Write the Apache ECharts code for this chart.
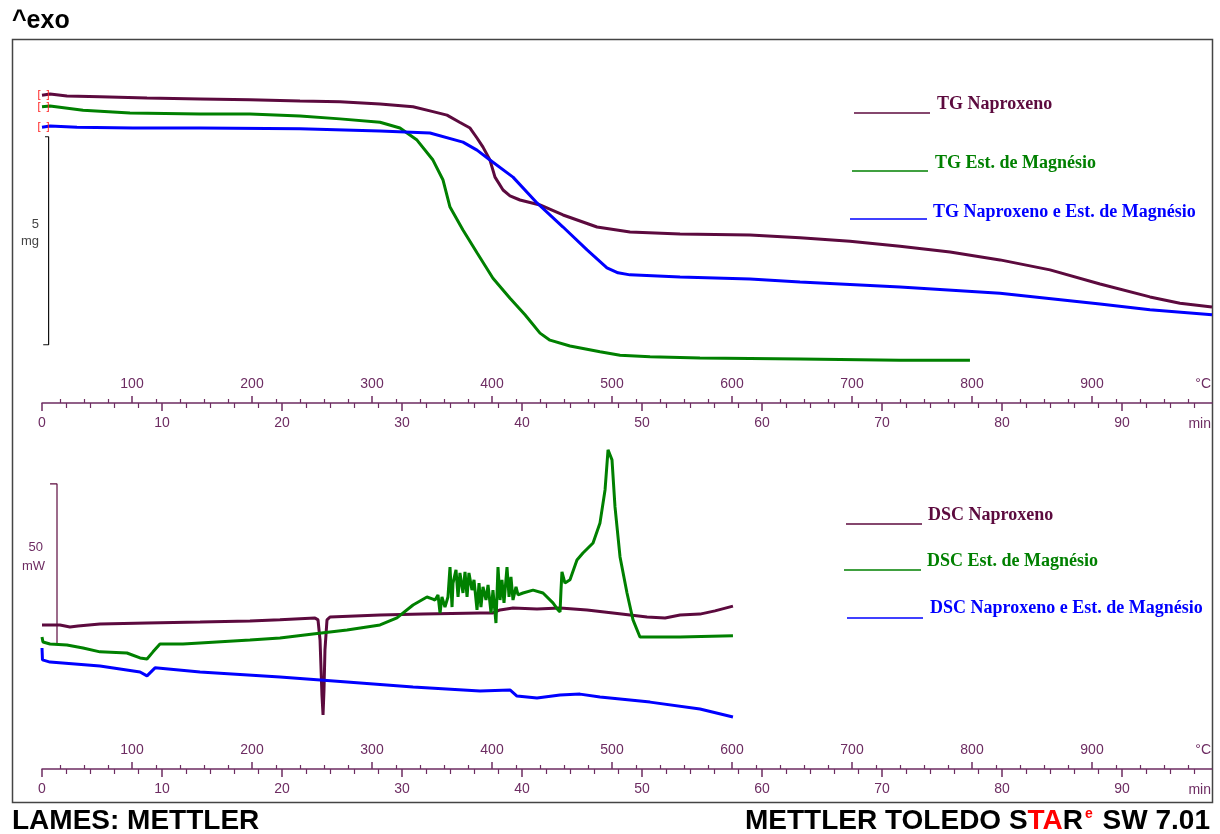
<!DOCTYPE html>
<html><head><meta charset="utf-8">
<script src="https://cdn.jsdelivr.net/npm/echarts@6/dist/echarts.min.js"></script>
<style>html,body{margin:0;padding:0;background:#fff}#c{width:1220px;height:834px}</style>
</head><body><div id="c"></div>
<script>
// ---------- tick labels ----------
const minuteMajorTicks = [0,10,20,30,40,50,60,70,80,90];
const minuteMinorTicks = [2,4,6,8,12,14,16,18,22,24,26,28,32,34,36,38,42,44,46,48,52,54,56,58,62,64,66,68,72,74,76,78,82,84,86,88,92,94,96];
const tempMajorTicks = [100,200,300,400,500,600,700,800,900];
const tempMinorTicks = [40,60,80,120,140,160,180,220,240,260,280,320,340,360,380,420,440,460,480,520,540,560,580,620,640,660,680,720,740,760,780,820,840,860,880,920,940,960,980];

// ---------- TG curves: [time min, mass mg] ----------
const tgNaproxeno = [[0,7.40],[0.67,7.43],[2.08,7.38],[4.83,7.36],[8.75,7.33],[13.17,7.31],[17.33,7.29],[21.5,7.26],[24.83,7.24],[28.17,7.19],[30.92,7.12],[32.5,7.01],[33.75,6.92],[34.8,6.75],[35.67,6.61],[36.25,6.37],[36.75,6.15],[37.33,5.84],[37.75,5.43],[38.42,5.12],[39.0,4.98],[39.83,4.88],[41.5,4.76],[43.42,4.52],[46.25,4.23],[49,4.11],[53.17,4.06],[59,4.04],[63.17,3.97],[67.33,3.89],[71.5,3.77],[75.67,3.63],[79.83,3.44],[84,3.20],[88.17,2.86],[92.33,2.55],[94.83,2.40],[97.5,2.31]];
const tgMagnesio = [[0,7.12],[0.67,7.14],[3.42,7.04],[7.33,6.97],[13.17,6.95],[17.33,6.95],[21.5,6.90],[24.83,6.83],[28.17,6.75],[29.83,6.61],[31.25,6.32],[32.58,5.84],[33.42,5.36],[34,4.71],[35.08,4.16],[36.25,3.61],[37.58,3.00],[39,2.52],[40.25,2.12],[41.5,1.68],[42.33,1.51],[44,1.37],[46.5,1.23],[48.17,1.15],[50.67,1.11],[54.83,1.08],[63.17,1.06],[71.5,1.03],[77.33,1.03]];
const tgMistura = [[0,6.63],[0.67,6.66],[2.92,6.63],[7.58,6.61],[13.17,6.61],[21.5,6.59],[28.17,6.54],[32.33,6.49],[35.08,6.27],[36.25,6.08],[37.33,5.84],[39.25,5.43],[41.25,4.81],[43.42,4.23],[45.42,3.68],[47.08,3.25],[48,3.13],[49,3.08],[53.17,3.03],[59,2.98],[63.17,2.91],[71.5,2.79],[79.83,2.64],[88.17,2.38],[92.33,2.24],[97.5,2.12]];
const tgScaleBar = [[0.25,6.4],[0.55,6.4],[0.55,1.4],[0.1,1.4]];

// ---------- DSC curves: [time min, heat flow mW] ----------
const dscNaproxeno = [[0,45.0],[1.5,45.0],[2.33,44.4],[3.0,44.7],[4.83,45.3],[8.75,45.6],[13.17,45.9],[17.33,46.25],[19.83,46.6],[22.75,47.2],[23.0,46.6],[23.17,40.3],[23.33,23.1],[23.42,16.9],[23.5,24.7],[23.58,37.2],[23.75,46.6],[24,47.5],[28.17,48.1],[31.75,48.4],[36.5,48.75],[37.58,48.75],[38.17,49.7],[39.25,50.3],[41.25,50.0],[43.17,50.3],[45.42,49.7],[47.58,48.75],[50.42,47.5],[51.92,47.2],[53.17,48.1],[54.83,48.4],[56.08,49.4],[57.58,50.9]];
const dscMagnesio = [[0,41.25],[0.08,39.7],[0.67,39.06],[2.08,38.75],[3.42,37.8],[4.83,36.6],[7.08,36.25],[8.17,34.7],[8.75,34.4],[9.25,36.6],[9.83,39.06],[11.75,39.06],[13.17,39.4],[17.33,40.3],[19.83,40.9],[22.58,42.2],[25.42,43.4],[28.17,45.0],[29.58,47.2],[30.92,51.25],[32.08,53.75],[32.58,53.1],
 [32.75,52.8],[33.0,54.4],[33.17,48.75],[33.33,53.75],[33.58,50.6],[33.83,53.75],[34.0,63.1],[34.17,50.6],[34.25,58.1],[34.5,62.2],[34.67,53.75],[34.83,61.25],[35.08,55.0],[35.25,61.6],[35.42,53.75],[35.58,61.25],[35.83,55.9],[36.0,59.1],[36.25,49.7],[36.42,58.1],[36.58,50.6],[36.75,56.9],[37.0,52.8],[37.17,57.5],[37.42,48.75],[37.58,55.9],[37.83,45.6],[38.0,63.1],[38.17,52.8],[38.33,59.1],[38.5,51.9],[38.75,63.1],[38.92,53.75],[39.08,60.0],[39.25,52.8],[39.5,56.9],[39.67,54.4],
 [40.08,55.0],[40.92,55.9],[41.75,55.0],[42.58,51.9],[43.0,49.7],[43.17,49.1],[43.25,55.9],[43.33,61.6],[43.58,58.1],[44.0,59.1],[44.58,65.3],[45.08,67.5],[45.92,70.6],[46.5,76.9],[46.92,87.2],[47.17,99.7],[47.33,99.1],[47.5,96.6],[47.75,81.9],[48.17,66.25],[48.75,55.0],[49.25,46.6],[49.83,41.25],[53.17,41.25],[57.58,41.6]];
const dscMistura = [[0,37.8],[0.04,34.1],[0.67,33.4],[4.83,32.2],[8.17,30.3],[8.75,29.1],[9.42,31.6],[13.17,30.3],[19.83,28.75],[25.42,27.2],[30.92,25.6],[36.5,24.4],[39,24.7],[39.58,22.8],[41.25,22.2],[43.17,23.1],[44.83,23.4],[46.5,22.5],[50.67,20.9],[54.83,18.75],[57.58,16.25]];
const dscScaleBar = [[0.67,89.06],[1.25,89.06],[1.25,39.06],[0.67,39.06]];

// ---------- styling ----------
const PURPLE = '#5c0a3e', GREEN = '#008000', BLUE = '#0000ff';
const AXIS = '#6d2c62';
const tickFont = {color: AXIS, fontSize: 14, fontFamily: 'Liberation Sans, Arial, sans-serif'};

function axesFor(g) {
  return [
    { gridIndex: g, type: 'value', position: 'bottom', min: 0, max: 97.5,
      axisLine: {show: true, onZero: false, lineStyle: {color: AXIS, width: 1.5}},
      axisTick: {show: true, customValues: minuteMajorTicks, length: 8, lineStyle: {color: AXIS, width: 1.5}},
      axisLabel: {show: true, customValues: minuteMajorTicks, margin: 13, ...tickFont},
      splitLine: {show: false},
      name: 'min', nameLocation: 'end', nameGap: -1,
      nameTextStyle: {...tickFont, align: 'right', verticalAlign: 'top', padding: [14, 0, 0, 0]} },
    { gridIndex: g, type: 'value', position: 'bottom', min: 0, max: 97.5,
      axisLine: {show: false, onZero: false},
      axisTick: {show: true, customValues: minuteMinorTicks, length: 5, lineStyle: {color: AXIS, width: 1.2}},
      axisLabel: {show: false}, splitLine: {show: false} },
    { gridIndex: g, type: 'value', position: 'bottom', min: 25, max: 1000,
      axisLine: {show: false, onZero: false},
      axisTick: {show: true, inside: true, customValues: tempMajorTicks, length: 7, lineStyle: {color: AXIS, width: 1.5}},
      axisLabel: {show: true, inside: true, customValues: tempMajorTicks, margin: 12, ...tickFont},
      splitLine: {show: false},
      name: '°C', nameLocation: 'end', nameGap: -1,
      nameTextStyle: {...tickFont, align: 'right', verticalAlign: 'bottom', padding: [0, 0, 12, 0]} },
    { gridIndex: g, type: 'value', position: 'bottom', min: 25, max: 1000,
      axisLine: {show: false, onZero: false},
      axisTick: {show: true, inside: true, customValues: tempMinorTicks, length: 4, lineStyle: {color: AXIS, width: 1.2}},
      axisLabel: {show: false}, splitLine: {show: false} }
  ];
}

function curve(name, data, color, xi, yi, startMark) {
  const s = { name, type: 'line', data, xAxisIndex: xi, yAxisIndex: yi,
    symbol: 'none', showSymbol: false, silent: true, smooth: false,
    lineStyle: {color, width: 3}, z: 3 };
  if (startMark) {
    s.markPoint = { symbol: 'circle', symbolSize: 0, silent: true,
      data: [{coord: data[0]}],
      label: {show: true, position: 'inside', formatter: '[  ]', color: '#ff2020', fontSize: 11, fontFamily: 'Liberation Sans, Arial, sans-serif', offset: [1.5, 0]} };
  }
  return s;
}

function legendEntry(x1, x2, ly, tx, ty, color, text) {
  return [
    {type: 'line', shape: {x1: x1, y1: ly, x2: x2, y2: ly}, style: {stroke: color, lineWidth: 1.5}},
    {type: 'text', x: tx, y: ty, style: {text, fill: color, font: 'bold 18px "Liberation Serif", "Times New Roman", serif', textVerticalAlign: 'middle'}}
  ];
}

const chart = echarts.init(document.getElementById('c'), null, {renderer: 'canvas'});
const option = {
  backgroundColor: '#ffffff',
  animation: false,
  grid: [
    {left: 42, width: 1170, top: 40, height: 363},
    {left: 42, width: 1170, top: 440, height: 329}
  ],
  xAxis: [...axesFor(0), ...axesFor(1)],
  yAxis: [
    {gridIndex: 0, type: 'value', min: 0, max: 8.726, show: false},
    {gridIndex: 1, type: 'value', min: 0, max: 102.8, show: false}
  ],
  series: [
    curve('TG Naproxeno', tgNaproxeno, PURPLE, 0, 0, true),
    curve('TG Est. de Magnésio', tgMagnesio, GREEN, 0, 0, true),
    curve('TG Naproxeno e Est. de Magnésio', tgMistura, BLUE, 0, 0, true),
    {name: '5 mg', type: 'line', data: tgScaleBar, xAxisIndex: 0, yAxisIndex: 0, symbol: 'none', silent: true,
     lineStyle: {color: '#111111', width: 1.2}, z: 2},
    curve('DSC Naproxeno', dscNaproxeno, PURPLE, 4, 1, false),
    curve('DSC Est. de Magnésio', dscMagnesio, GREEN, 4, 1, false),
    curve('DSC Naproxeno e Est. de Magnésio', dscMistura, BLUE, 4, 1, false),
    {name: '50 mW', type: 'line', data: dscScaleBar, xAxisIndex: 4, yAxisIndex: 1, symbol: 'none', silent: true,
     lineStyle: {color: PURPLE, width: 1.2}, z: 2}
  ],
  graphic: [
    {type: 'rect', shape: {x: 12.5, y: 39.5, width: 1200, height: 763}, style: {fill: 'none', stroke: '#444444', lineWidth: 1.5}, z: 0},
    {type: 'text', x: 12, y: 21, style: {text: '^exo', fill: '#000', font: 'bold 25px "Liberation Sans", Arial, sans-serif', textVerticalAlign: 'middle'}},
    {type: 'text', x: 39, y: 224, style: {text: '5', fill: '#444', font: '13px "Liberation Sans", Arial, sans-serif', textAlign: 'right', textVerticalAlign: 'middle'}},
    {type: 'text', x: 39, y: 241, style: {text: 'mg', fill: '#444', font: '13px "Liberation Sans", Arial, sans-serif', textAlign: 'right', textVerticalAlign: 'middle'}},
    {type: 'text', x: 43, y: 547, style: {text: '50', fill: AXIS, font: '13px "Liberation Sans", Arial, sans-serif', textAlign: 'right', textVerticalAlign: 'middle'}},
    {type: 'text', x: 45, y: 566, style: {text: 'mW', fill: AXIS, font: '13px "Liberation Sans", Arial, sans-serif', textAlign: 'right', textVerticalAlign: 'middle'}},
    ...legendEntry(854, 930, 113, 937, 104, PURPLE, 'TG Naproxeno'),
    ...legendEntry(852, 928, 171, 935, 163, GREEN, 'TG Est. de Magnésio'),
    ...legendEntry(850, 927, 219, 933, 212, BLUE, 'TG Naproxeno e Est. de Magnésio'),
    ...legendEntry(846, 922, 524, 928, 515, PURPLE, 'DSC Naproxeno'),
    ...legendEntry(844, 921, 570, 927, 561, GREEN, 'DSC Est. de Magnésio'),
    ...legendEntry(847, 923, 618, 930, 608, BLUE, 'DSC Naproxeno e Est. de Magnésio'),
    {type: 'text', x: 12, y: 821, style: {text: 'LAMES: METTLER', fill: '#000', font: 'bold 28px "Liberation Sans", Arial, sans-serif', textVerticalAlign: 'middle'}},
    {type: 'text', x: 1210, y: 821, style: {
      text: '{a|METTLER TOLEDO S}{r|TA}{a|R}{s|e}{a| SW 7.01}',
      textAlign: 'right', textVerticalAlign: 'middle',
      rich: {
        a: {fill: '#000', font: 'bold 28px "Liberation Sans", Arial, sans-serif', fontSize: 28, fontWeight: 'bold', fontFamily: 'Liberation Sans'},
        r: {fill: '#ff0000', font: 'bold 28px "Liberation Sans", Arial, sans-serif', fontSize: 28, fontWeight: 'bold', fontFamily: 'Liberation Sans'},
        s: {fill: '#ff0000', font: 'bold 14px "Liberation Sans", Arial, sans-serif', fontSize: 14, fontWeight: 'bold', fontFamily: 'Liberation Sans', verticalAlign: 'top', padding: [0, 2, 0, 2]}
      }}}
  ]
};
chart.setOption(option);
</script></body></html>
